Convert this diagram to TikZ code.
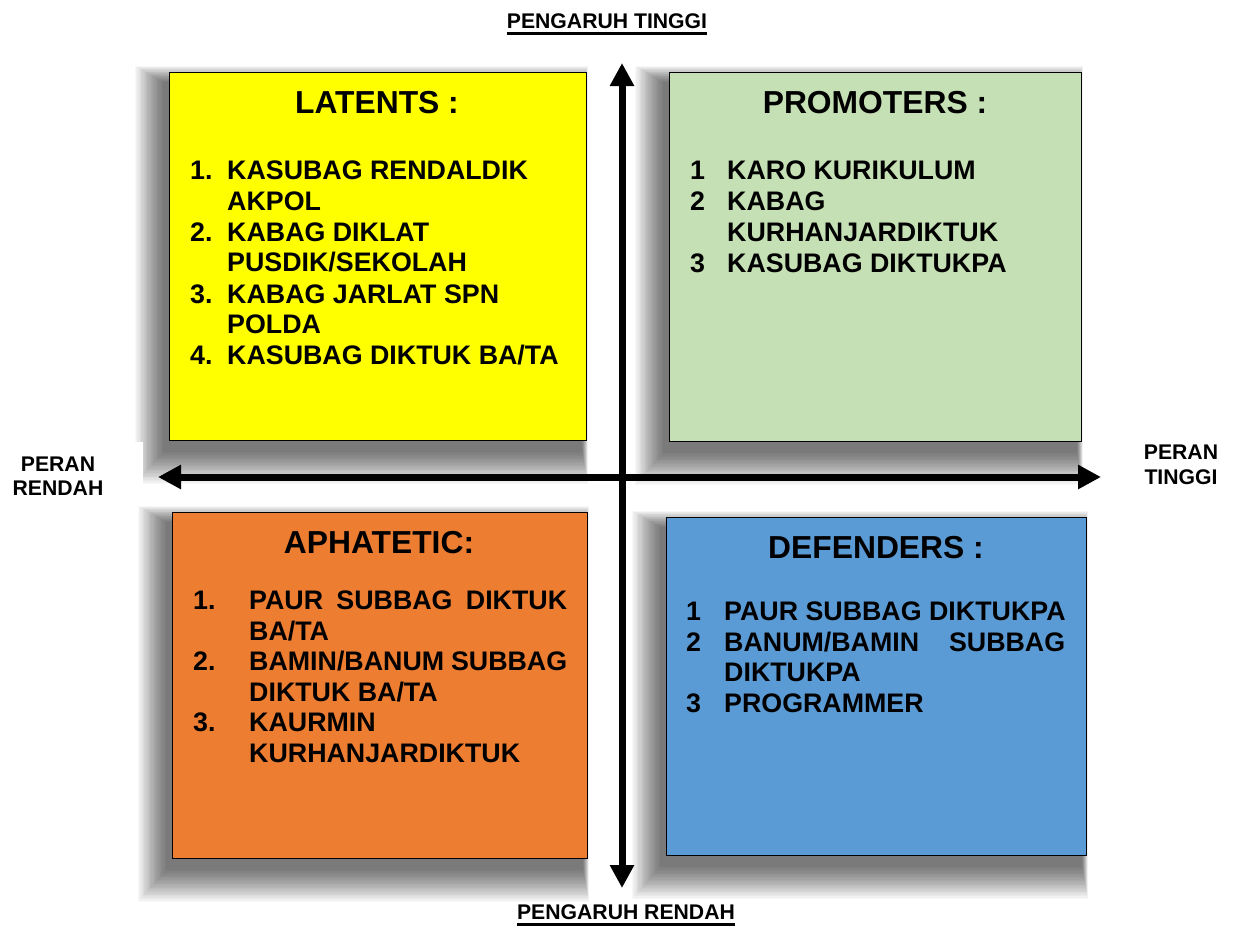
\documentclass[tikz,border=0pt]{standalone}
\usepackage{fontspec}
\setmainfont{Liberation Sans}
\usetikzlibrary{arrows.meta}
\definecolor{qyellow}{HTML}{FFFF00}
\definecolor{qgreen}{HTML}{C5E0B4}
\definecolor{qorange}{HTML}{ED7D31}
\definecolor{qblue}{HTML}{5B9BD5}
\tikzset{
 qbox/.style={draw=black, line width=1.2pt, inner sep=0pt, anchor=north west},
 ttl/.style={font=\bfseries\fontsize{31.8}{36}\selectfont, anchor=base, inner sep=0pt},
 itm/.style={font=\bfseries\fontsize{26.8}{31}\selectfont, anchor=base west, inner sep=0pt},
 axl/.style={font=\bfseries\fontsize{21.2}{27}\selectfont, anchor=base, inner sep=0pt},
 uline/.style={line width=3pt},
 axarrow/.style={line width=7pt, {Triangle[width=23pt,length=23pt]}-{Triangle[width=23pt,length=23pt]}},
}
\newcommand\qshadow[4]{%
 \foreach \k in {0,...,23}{
   \pgfmathsetmacro\tt{1-\k/23}
   \fill[black,opacity=0.026] ({#1-6-28*\tt},{#2+10-16*\tt}) rectangle ({#3-4+6*\tt},{#4+12+32*\tt});
 }}
\begin{document}
\begin{tikzpicture}[x=1pt,y=-1pt]
\useasboundingbox (0,0) rectangle (1234,927);
\fill[white] (0,0) rectangle (1234,927);
% shadows
\qshadow{169}{72}{586}{440}
\qshadow{669}{72}{1081}{441}
\qshadow{172}{512}{587}{858}
\qshadow{666}{517}{1086}{855}
\fill[white] (0,442) rectangle (143,505);
% boxes
\node[qbox, fill=qyellow, minimum width=417pt, minimum height=368pt] (lat) at (169,72) {};
\node[qbox, fill=qgreen, minimum width=412pt, minimum height=369pt] (pro) at (669,72) {};
\node[qbox, fill=qorange, minimum width=415pt, minimum height=346pt] (aph) at (172,512) {};
\node[qbox, fill=qblue, minimum width=420pt, minimum height=338pt] (def) at (666,517) {};
% titles
\node[ttl] (latT) at (377,113.5) {LATENTS :};
\node[ttl] (proT) at (875,113.5) {PROMOTERS :};
\node[ttl] (aphT) at (379,553.5) {APHATETIC:};
\node[ttl] (defT) at (876,558.5) {DEFENDERS :};
% latents list
\node[itm] (l1n) at (190,179) {1.};
\node[itm] (l1a) at (227,179) {KASUBAG RENDALDIK};
\node[itm] (l1b) at (227,210) {AKPOL};
\node[itm] (l2n) at (190,241) {2.};
\node[itm] (l2a) at (227,241) {KABAG DIKLAT};
\node[itm] (l2b) at (227,271) {PUSDIK/SEKOLAH};
\node[itm] (l3n) at (190,303) {3.};
\node[itm] (l3a) at (227,303) {KABAG JARLAT SPN};
\node[itm] (l3b) at (227,333) {POLDA};
\node[itm] (l4n) at (190,364) {4.};
\node[itm] (l4a) at (227,364) {KASUBAG DIKTUK BA/TA};
% promoters list
\node[itm] (p1n) at (690,179) {1};
\node[itm] (p1a) at (727,179) {KARO KURIKULUM};
\node[itm] (p2n) at (690,210) {2};
\node[itm] (p2a) at (727,210) {KABAG};
\node[itm] (p2b) at (727,241) {KURHANJARDIKTUK};
\node[itm] (p3n) at (690,272) {3};
\node[itm] (p3a) at (727,272) {KASUBAG DIKTUKPA};
% aphatetic list
\node[itm] (a1n) at (193,609) {1.};
\node[itm] (a1a) at (249,609) {\makebox[318pt][s]{PAUR SUBBAG DIKTUK}};
\node[itm] (a1b) at (249,640) {BA/TA};
\node[itm] (a2n) at (193,670) {2.};
\node[itm] (a2a) at (249,670) {\makebox[318pt][s]{BAMIN/BANUM SUBBAG}};
\node[itm] (a2b) at (249,701) {DIKTUK BA/TA};
\node[itm] (a3n) at (193,731) {3.};
\node[itm] (a3a) at (249,731) {KAURMIN};
\node[itm] (a3b) at (249,762) {KURHANJARDIKTUK};
% defenders list
\node[itm] (d1n) at (686,620) {1};
\node[itm] (d1a) at (724,620) {PAUR SUBBAG DIKTUKPA};
\node[itm] (d2n) at (686,651) {2};
\node[itm] (d2a) at (724,651) {\makebox[341pt][s]{BANUM/BAMIN SUBBAG}};
\node[itm] (d2b) at (724,681) {DIKTUKPA};
\node[itm] (d3n) at (686,712) {3};
\node[itm] (d3a) at (724,712) {PROGRAMMER};
% axis labels
\node[axl] (pt) at (607,28) {PENGARUH TINGGI};
\draw[uline] ([yshift=-5pt]pt.base west) -- ([yshift=-5pt]pt.base east);
\node[axl] (pr) at (626,919) {PENGARUH RENDAH};
\draw[uline] ([yshift=-5pt]pr.base west) -- ([yshift=-5pt]pr.base east);
\node[axl] (prl1) at (58,471) {PERAN};
\node[axl] (prl2) at (58,495) {RENDAH};
\node[axl] (prt1) at (1181,459) {PERAN};
\node[axl] (prt2) at (1181,484) {TINGGI};
% axes
\coordinate (vt) at (622,63);
\coordinate (vb) at (622,888);
\coordinate (hl) at (158,477);
\coordinate (hr) at (1101,477);
\draw[axarrow] (vb) -- (vt);
\draw[axarrow] (hl) -- (hr);
\end{tikzpicture}
\end{document}
